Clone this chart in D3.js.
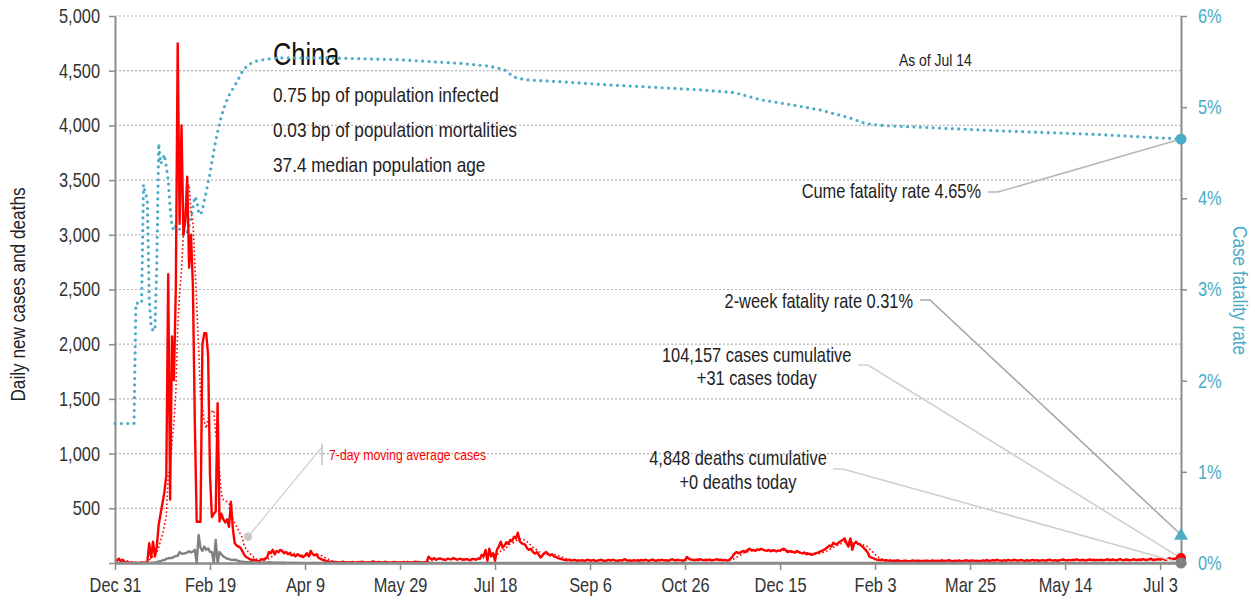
<!DOCTYPE html>
<html>
<head>
<meta charset="utf-8">
<script src="https://cdn.jsdelivr.net/npm/d3@7"></script>
<style>
  body { margin: 0; background: #fff; }
  svg text { font-family: "Liberation Sans", Arial, sans-serif; }
</style>
</head>
<body>
<div id="chart"></div>
<script>
// ---- data ----
const startDate = "2019-12-31";
const endDate = "2021-07-14";

// daily new cases, one value per day from Dec 31 2019
const dailyCases = [
  30,
  // Jan 2020
  20,40,15,30,10,5,5,3,2,0, 0,0,2,5,3,5,8,180,50,195, 60,150,350,450,550,650,800,2640,580,2070, 1670,
  // Feb
  2500,4750,3100,4000,3000,3130,3530,2700,3000,2530, 1300,377,377,377,2000,2100,2100,1900,800,420, 450,470,1460,380,450,400,370,400,330,
  // Mar
  560,320,180,160,150,140,110,75,55,45, 35,27,30,25,15,20,35,30,40,50, 100,90,120,80,110,100,120,110,90,100, 80,
  // Apr
  90,70,75,60,80,70,60,55,70,90, 60,110,80,70,80,50,40,30,25,20, 15,12,10,8,10,6,8,5,12,6,
  // May
  4,8,5,10,6,3,9,7,12,5, 4,8,6,10,15,7,5,9,4,6, 11,8,5,3,7,10,6,4,8,5, 9,
  // Jun
  6,10,4,8,5,12,7,9,6,5, 8,4,58,40,35,45,30,38,42,35, 30,28,40,36,33,45,38,30,35,40,
  // Jul
  28,32,36,30,25,38,35,30,42,38, 75,60,119,20,130,60,90,20,120,150, 195,140,160,190,175,210,200,240,225,277, 200,
  // Aug
  180,175,165,130,120,130,100,85,100,75, 50,70,90,100,80,70,80,60,55,45, 40,35,30,28,25,30,22,25,28,20, 24,
  // Sep
  22,26,18,25,30,20,24,28,15,22, 26,30,20,18,25,28,22,30,24,18, 20,26,22,35,28,20,24,18,26,22,
  // Oct
  25,20,28,22,30,24,18,26,32,22, 20,28,24,30,22,26,20,25,35,28, 22,30,26,24,20,28,55,40,32,28, 25,
  // Nov
  30,26,35,28,24,30,26,32,22,28, 30,35,26,30,24,28,22,25,40,60, 85,100,90,95,105,110,100,120,130,115,
  // Dec
  120,110,125,118,130,122,115,110,120,108, 112,118,105,115,110,125,130,115,100,108, 102,100,95,110,98,92,88,95,80,85, 78,
  // Jan 2021
  75,85,90,95,105,110,120,130,145,160, 150,185,175,170,190,200,210,225,180,150, 225,120,180,195,175,170,155,140,120,100, 60,
  // Feb
  50,45,35,30,28,25,30,22,25,20, 24,18,22,20,25,18,15,20,22,18, 16,20,24,18,20,22,16,20,
  // Mar
  18,22,20,15,24,20,18,22,16,25, 20,18,22,26,20,15,22,18,24,20, 16,22,26,18,20,24,22,18,20,16, 22,
  // Apr
  24,20,28,18,22,26,20,30,24,22, 18,26,20,28,24,22,30,26,20,24, 28,22,18,26,20,24,28,22,26,20,
  // May
  22,26,24,20,28,30,24,22,26,20, 24,28,32,26,22,28,24,30,26,34, 28,24,30,26,22,28,32,26,30,24, 28,
  // Jun
  26,30,24,28,34,30,26,32,28,24, 30,36,28,26,32,30,24,28,34,30, 26,32,28,36,30,26,34,40,30,28,
  // Jul 1-14
  32,36,30,42,34,28,38,45,32,40, 36,55,40,45
];

// daily new deaths, same days
const dailyDeaths = [
  0,
  // Jan 2020
  0,0,0,0,0,0,0,0,0,0, 0,0,0,0,0,0,0,1,2,3, 5,8,15,16,25,26,38,43,46,45, 57,
  // Feb
  64,65,100,85,86,89,97,108,97,105, 121,0,256,140,110,150,120,134,103,100, 0,210,0,100,80,60,50,40,35,
  // Mar
  30,28,30,25,20,15,12,10,8,7, 10,8,6,5,6,4,3,5,4,3, 7,6,4,3,5,3,2,4,3,2, 1,
  // Apr
  2,1,2,3,1,2,1,1,0,1, 0,1,0,2,0,1,0,0,0,0, 1,0,0,0,0,0,0,0,0,0,
  // May
  0,1,0,0,0,0,0,0,0,0, 0,0,0,0,0,0,1,0,0,0, 0,0,0,0,0,0,0,0,0,0, 0,
  // Jun
  0,0,0,0,0,0,0,0,0,0, 0,0,0,0,0,0,0,0,0,0, 0,0,0,0,0,0,0,0,0,0,
  // Jul
  0,0,0,0,0,0,0,0,0,0, 0,0,0,0,0,0,0,0,0,0, 0,0,0,0,0,0,0,0,0,0, 0,
  // Aug
  0,0,0,0,0,0,0,0,0,0, 0,0,0,0,0,0,0,0,0,0, 0,0,0,0,0,0,0,0,0,0, 0,
  // Sep
  0,0,0,0,0,0,0,0,0,0, 0,0,0,0,0,0,0,0,0,0, 0,0,0,0,0,0,0,0,0,0,
  // Oct
  0,0,0,0,0,0,0,0,0,0, 0,0,0,0,0,0,0,0,0,0, 0,0,0,0,0,0,0,0,0,0, 0,
  // Nov
  0,0,0,0,0,0,0,0,0,0, 0,0,0,0,0,0,0,0,0,0, 0,0,0,0,0,0,0,0,0,0,
  // Dec
  0,0,0,0,0,0,0,0,0,0, 0,0,0,0,0,0,0,0,0,0, 0,0,0,0,0,0,0,0,0,0, 0,
  // Jan 2021
  0,0,0,0,0,0,0,0,0,0, 0,0,0,1,0,0,0,0,0,0, 0,0,0,0,0,0,0,0,0,0, 0,
  // Feb
  0,0,0,0,0,0,0,0,0,0, 0,0,0,0,0,0,0,0,0,0, 0,0,0,0,0,0,0,0,
  // Mar
  0,0,0,0,0,0,0,0,0,0, 0,0,0,0,0,0,0,0,0,0, 0,0,0,0,0,0,0,0,0,0, 0,
  // Apr
  0,0,0,0,0,0,0,0,0,0, 0,0,0,0,0,0,0,0,0,0, 0,0,0,0,0,0,0,0,0,0,
  // May
  0,0,0,0,0,0,0,0,0,0, 0,0,0,0,0,0,0,0,0,0, 0,0,0,0,0,0,0,0,0,0, 0,
  // Jun
  0,0,0,0,0,0,0,0,0,0, 0,0,0,0,0,0,0,0,0,0, 0,0,0,0,0,0,0,0,0,0,
  // Jul 1-14
  0,0,0,0,0,0,0,0,0,0, 0,0,0,0
];

// case fatality rate (%), daily for the first weeks from Dec 31 2019
const cfrEarly = [
  1.53,1.53,1.53,1.53,1.53,1.53,1.53,1.53,1.53,1.53, 1.53,2.85,2.85,2.85,2.85,4.15,4.05,4.0,2.9,2.6,
  2.55,2.55,3.3,4.6,4.38,4.42,4.48,4.35,4.2,3.9, 3.69,3.65,3.7,3.7,3.66,3.65,3.6,3.6,3.63,3.7,
  3.78,3.9,4.02,3.98,3.85,3.82,3.87,3.98,4.07,4.18, 4.27,4.4,4.52,4.63,4.73,4.82,4.9,4.97,5.03,5.08,
  5.13,5.17,5.2,5.24,5.27,5.31,5.35,5.39,5.42,5.44, 5.46
];
// and after that, at these dates
const cfrLaterDates = ["2020-03-13","2020-03-18","2020-03-25","2020-04-22","2020-05-29","2020-06-30",
  "2020-07-15","2020-07-23","2020-07-28","2020-08-03","2020-08-21","2020-09-11","2020-10-08",
  "2020-11-03","2020-11-21","2020-12-05","2020-12-20","2021-01-05","2021-01-21","2021-01-29",
  "2021-02-06","2021-04-10","2021-06-01","2021-07-14"];
const cfrLaterPct = [5.50,5.52,5.54,5.54,5.52,5.48, 5.45,5.41,5.33,5.30,5.28,5.25,5.22,
  5.19,5.16,5.08,5.03,4.97,4.88,4.82, 4.80,4.74,4.70,4.65];

const leftTicks = [0, 500, 1000, 1500, 2000, 2500, 3000, 3500, 4000, 4500, 5000];
const rightTicks = [0, 1, 2, 3, 4, 5, 6];
const xTickStepDays = 50;

const country = "China";
const infoLines = ["0.75 bp of population infected", "0.03 bp of population mortalities", "37.4 median population age"];
const asOfLabel = "As of Jul 14";
const cumeRate = 4.65;
const twoWeekRate = 0.31;
const casesCumLabel = ["104,157 cases cumulative", "+31 cases today"];
const deathsCumLabel = ["4,848 deaths cumulative", "+0 deaths today"];
const maLabel = "7-day moving average cases";
const maAnchorDate = "2020-03-10";
const maAnchorValue = 240;

// ---- layout ----
const W = 1255, H = 604;
const margin = { top: 16, right: 74, bottom: 41, left: 115 },
      width = W - margin.left - margin.right,
      height = H - margin.top - margin.bottom;

const blue = "#4aacc6", red = "#ff0000", grey = "#808080";
const narrow = 0.82; // squeeze text horizontally, the original uses a condensed face

const parseDate = d3.utcParse("%Y-%m-%d");
const t0 = parseDate(startDate), t1 = parseDate(endDate);

const cases = dailyCases.map((v, i) => ({ date: d3.utcDay.offset(t0, i), v }));
const deaths = dailyDeaths.map((v, i) => ({ date: d3.utcDay.offset(t0, i), v }));
const movingAvg = dailyCases.map((v, i) => ({
  date: d3.utcDay.offset(t0, i),
  v: d3.mean(dailyCases.slice(Math.max(0, i - 6), i + 1))
}));
const cfr = cfrEarly.map((v, i) => ({ date: d3.utcDay.offset(t0, i), v }))
  .concat(cfrLaterDates.map((d, i) => ({ date: parseDate(d), v: cfrLaterPct[i] })));

const x = d3.scaleUtc().domain([t0, t1]).range([0, width]);
const y = d3.scaleLinear().domain([0, 5000]).range([height, 0]);
const y2 = d3.scaleLinear().domain([0, 6]).range([height, 0]);

// moves x/y into a transform so the glyphs can be narrowed
function squeeze(sel) {
  sel.each(function() {
    const t = d3.select(this);
    const tx = +t.attr("x") || 0, ty = +t.attr("y") || 0;
    const prev = t.attr("transform") || "";
    t.attr("x", 0).attr("y", 0)
      .attr("transform", `${prev} translate(${tx},${ty}) scale(${narrow},1)`);
  });
}

const svg = d3.select("#chart")
  .append("svg")
  .attr("width", W)
  .attr("height", H)
  .append("g")
  .attr("transform", `translate(${margin.left},${margin.top})`);

// grid
svg.append("g")
  .selectAll("line")
  .data(leftTicks.filter(d => d > 0))
  .enter()
  .append("line")
  .attr("x1", 0).attr("x2", width)
  .attr("y1", d => y(d)).attr("y2", d => y(d))
  .attr("stroke", "#b5b5b5")
  .attr("stroke-width", 1.2)
  .attr("stroke-dasharray", "2,2");

// info block
svg.append("text")
  .attr("x", 158).attr("y", 49)
  .style("font-size", "31px").style("fill", "#111")
  .text(country);
svg.selectAll(".info")
  .data(infoLines)
  .enter()
  .append("text")
  .attr("class", "info")
  .attr("x", 158).attr("y", (d, i) => 85.5 + i * 35)
  .style("font-size", "21px").style("fill", "#222")
  .text(d => d);
svg.append("text")
  .attr("x", 784).attr("y", 50)
  .style("font-size", "17px").style("fill", "#222")
  .text(asOfLabel);

// lines
const line = (yy) => d3.line().x(d => x(d.date)).y(d => yy(d.v));

svg.append("path")
  .datum(cfr)
  .attr("fill", "none")
  .attr("stroke", blue)
  .attr("stroke-width", 3.2)
  .attr("stroke-linecap", "round")
  .attr("stroke-dasharray", "0,6.4")
  .attr("d", line(y2));

svg.append("path")
  .datum(movingAvg)
  .attr("fill", "none")
  .attr("stroke", red)
  .attr("stroke-width", 1.6)
  .attr("stroke-dasharray", "1.6,2.4")
  .attr("d", line(y));

svg.append("path")
  .datum(cases)
  .attr("fill", "none")
  .attr("stroke", red)
  .attr("stroke-width", 2.4)
  .attr("stroke-linejoin", "round")
  .attr("d", line(y));

svg.append("path")
  .datum(deaths)
  .attr("fill", "none")
  .attr("stroke", grey)
  .attr("stroke-width", 2.4)
  .attr("stroke-linejoin", "round")
  .attr("d", line(y));

// axes
const fmtTick = d3.utcFormat("%b %-d");
const xAxis = svg.append("g")
  .attr("transform", `translate(0,${height})`)
  .call(d3.axisBottom(x)
    .tickValues(d3.range(0, dailyCases.length, xTickStepDays).map(i => d3.utcDay.offset(t0, i)))
    .tickFormat(fmtTick)
    .tickSize(7).tickSizeOuter(0).tickPadding(8));

const yAxis = svg.append("g")
  .call(d3.axisLeft(y)
    .tickValues(leftTicks)
    .tickFormat(d => d === 0 ? "" : d3.format(",")(d))
    .tickSize(6).tickSizeOuter(0).tickPadding(9));

const yAxis2 = svg.append("g")
  .attr("transform", `translate(${width},0)`)
  .call(d3.axisRight(y2)
    .tickValues(rightTicks)
    .tickFormat(d => d + "%")
    .tickSize(6).tickSizeOuter(0).tickPadding(11));

[xAxis, yAxis, yAxis2].forEach(a => {
  a.attr("font-family", null);
  a.select(".domain").attr("stroke", "#8c8c8c").attr("stroke-width", 2);
  a.selectAll(".tick line").attr("stroke", "#8c8c8c").attr("stroke-width", 1.5);
  a.selectAll(".tick text").style("font-size", "20px").style("fill", "#333");
});
xAxis.select(".domain").attr("stroke-width", 2.6);
yAxis2.selectAll(".tick text").style("fill", blue);
[xAxis, yAxis, yAxis2].forEach(a => a.selectAll(".tick text").call(squeeze));

svg.append("text")
  .attr("transform", `translate(${-90},${height / 2 + 5}) rotate(-90)`)
  .attr("text-anchor", "middle")
  .style("font-size", "21px").style("fill", "#222")
  .text("Daily new cases and deaths");

svg.append("text")
  .attr("transform", `translate(${width + 52},${height / 2 + 1}) rotate(90)`)
  .attr("text-anchor", "middle")
  .style("font-size", "21px").style("fill", blue)
  .text("Case fatality rate");

// annotations with leaders
const xEnd = x(t1);
const lastCase = dailyCases[dailyCases.length - 1];
const lastDeath = dailyDeaths[dailyDeaths.length - 1];

function leader(x0, y0, x1, y1, color) {
  svg.append("path")
    .attr("d", `M${x0},${y0}H${x0 + 10}L${x1},${y1}`)
    .attr("fill", "none")
    .attr("stroke", color)
    .attr("stroke-width", 1.6);
}

// cume fatality
svg.append("text")
  .attr("x", 866).attr("y", 182)
  .attr("text-anchor", "end")
  .style("font-size", "20px").style("fill", "#222")
  .text(`Cume fatality rate ${cumeRate.toFixed(2)}%`);
leader(873, 176, xEnd, y2(cumeRate), "#b8b8b8");

// 2-week
svg.append("text")
  .attr("x", 798).attr("y", 292)
  .attr("text-anchor", "end")
  .style("font-size", "20px").style("fill", "#222")
  .text(`2-week fatality rate ${twoWeekRate.toFixed(2)}%`);
leader(805, 284, xEnd, y2(twoWeekRate), "#a8a8a8");

// cases cumulative
svg.selectAll(".cc")
  .data(casesCumLabel)
  .enter()
  .append("text")
  .attr("class", "cc")
  .attr("x", 641.7).attr("y", (d, i) => 345.5 + i * 23.5)
  .attr("text-anchor", "middle")
  .style("font-size", "20px").style("fill", "#222")
  .text(d => d);
leader(743, 349, xEnd, y(lastCase), "#cfcfcf");

// deaths cumulative
svg.selectAll(".dc")
  .data(deathsCumLabel)
  .enter()
  .append("text")
  .attr("class", "dc")
  .attr("x", 623).attr("y", (d, i) => 449 + i * 23.5)
  .attr("text-anchor", "middle")
  .style("font-size", "20px").style("fill", "#222")
  .text(d => d);
leader(718, 453, xEnd, y(lastDeath), "#cfcfcf");

// moving average label
const ma = { x: x(parseDate(maAnchorDate)), y: y(maAnchorValue) };
svg.append("line")
  .attr("x1", 207).attr("x2", ma.x)
  .attr("y1", 431).attr("y2", ma.y)
  .attr("stroke", "#d0d0d0").attr("stroke-width", 1.2);
svg.append("line")
  .attr("x1", 207).attr("x2", 207)
  .attr("y1", 428).attr("y2", 449)
  .attr("stroke", "#b0b0b0").attr("stroke-width", 1.2);
svg.append("circle")
  .attr("cx", ma.x).attr("cy", ma.y).attr("r", 4.2)
  .attr("fill", "#c8c8c8");
svg.append("text")
  .attr("x", 214).attr("y", 444)
  .style("font-size", "15px").style("fill", red)
  .text(maLabel);

// end markers
svg.append("circle")
  .attr("cx", xEnd).attr("cy", y2(cumeRate)).attr("r", 5.5)
  .attr("fill", blue);
svg.append("path")
  .attr("d", d3.symbol(d3.symbolTriangle).size(85)())
  .attr("transform", `translate(${xEnd},${y2(twoWeekRate) + 1})`)
  .attr("fill", blue);
svg.append("circle")
  .attr("cx", xEnd).attr("cy", y(lastCase)).attr("r", 5)
  .attr("fill", red);
svg.append("circle")
  .attr("cx", xEnd).attr("cy", y(lastDeath)).attr("r", 5.5)
  .attr("fill", grey);

// narrow every free-standing label too
svg.selectAll(":scope > text").call(squeeze);
</script>
</body>
</html>
